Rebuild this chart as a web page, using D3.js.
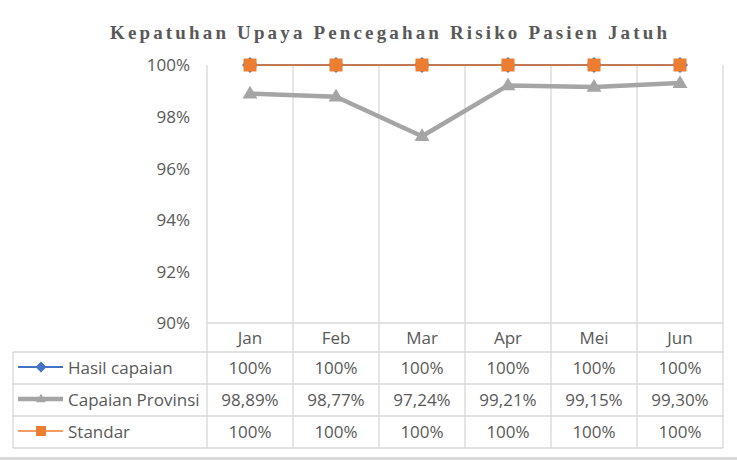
<!DOCTYPE html>
<html>
<head>
<meta charset="utf-8">
<script src="https://cdn.jsdelivr.net/npm/d3@7"></script>
<style>
html,body{margin:0;padding:0;background:#fff;}
svg{display:block;}
</style>
</head>
<body>
<svg id="chart" width="737" height="460"></svg>
<script>
const title = "Kepatuhan Upaya Pencegahan Risiko Pasien Jatuh";
const categories = ["Jan", "Feb", "Mar", "Apr", "Mei", "Jun"];
const hasilCapaian = [100, 100, 100, 100, 100, 100];
const capaianProvinsi = [98.89, 98.77, 97.24, 99.21, 99.15, 99.30];
const standar = [100, 100, 100, 100, 100, 100];
const yTicks = [90, 92, 94, 96, 98, 100];
const seriesNames = ["Hasil capaian", "Capaian Provinsi", "Standar"];

const series = [
  {name: seriesNames[0], values: hasilCapaian, color: "#4472c4", width: 2, marker: "diamond"},
  {name: seriesNames[1], values: capaianProvinsi, color: "#a5a5a5", width: 4.5, marker: "triangle"},
  {name: seriesNames[2], values: standar, color: "#ed7d31", width: 1.5, marker: "square"}
];

const svg = d3.select("#chart");
const txt = "#595959", grid = "#d9d9d9";
const font = "'Open Sans', sans-serif";

const plotL = 207, plotR = 723, plotT = 65, plotB = 323;
const tableL = 13;
const rowEdges = [323, 352, 384, 416, 448];

const x = d3.scaleBand().domain(categories).range([plotL, plotR]).padding(0);
const cx = c => x(c) + x.bandwidth() / 2;
const y = d3.scaleLinear().domain([90, 100]).range([plotB, plotT]);

const locale = d3.formatLocale({decimal: ",", thousands: ".", grouping: [3], currency: ["", ""]});
const fmt2 = locale.format(".2f");
const fmtVal = v => (v === 100 ? "100" : fmt2(v)) + "%";

// bottom band
svg.append("rect").attr("x", 0).attr("y", 457).attr("width", 737).attr("height", 3).attr("fill", "#d9d9d9");

// title
svg.append("text").attr("x", 110).attr("y", 39)
  .attr("font-family", "'Liberation Serif', 'Times New Roman', serif")
  .attr("font-weight", "bold").attr("font-size", 19).attr("fill", txt)
  .attr("textLength", 557).attr("lengthAdjust", "spacing")
  .text(title);

// vertical gridlines (band boundaries) spanning plot + table
const bounds = categories.map(c => x(c)).concat([plotR]);
svg.append("g").selectAll("line").data(bounds).join("line")
  .attr("x1", d => d).attr("x2", d => d)
  .attr("y1", plotT).attr("y2", rowEdges[rowEdges.length - 1])
  .attr("stroke", grid).attr("stroke-width", 1.3);

// horizontal table lines
svg.append("line").attr("x1", plotL).attr("x2", plotR).attr("y1", rowEdges[0]).attr("y2", rowEdges[0])
  .attr("stroke", grid).attr("stroke-width", 1.3);
svg.append("g").selectAll("line").data(rowEdges.slice(1)).join("line")
  .attr("x1", tableL).attr("x2", plotR).attr("y1", d => d).attr("y2", d => d)
  .attr("stroke", grid).attr("stroke-width", 1.3);
svg.append("line").attr("x1", tableL).attr("x2", tableL).attr("y1", rowEdges[1]).attr("y2", rowEdges[4])
  .attr("stroke", grid).attr("stroke-width", 1.3);

// y axis
const yAxis = d3.axisLeft(y).tickValues(yTicks).tickSize(0).tickPadding(0).tickFormat(d => d + "%");
const yg = svg.append("g").attr("transform", `translate(190,0)`).call(yAxis);
yg.select(".domain").remove();
yg.selectAll("text").attr("font-family", font).attr("font-size", 17).attr("fill", txt).attr("dy", "0.35em");

// category labels
svg.append("g").selectAll("text").data(categories).join("text")
  .attr("x", d => cx(d)).attr("y", (rowEdges[0] + rowEdges[1]) / 2 + 6)
  .attr("text-anchor", "middle").attr("font-family", font).attr("font-size", 17).attr("fill", txt)
  .text(d => d);

// marker drawing
function markerPath(type, s) {
  if (type === "diamond") return `M0,${-s/2}L${s/2},0L0,${s/2}L${-s/2},0Z`;
  if (type === "square") return `M${-s/2},${-s/2}h${s}v${s}h${-s}Z`;
  const h = s * 0.85;
  return `M0,${-h*0.62}L${s/2},${h*0.38}L${-s/2},${h*0.38}Z`;
}
const markerSize = {diamond: 16, triangle: 15, square: 13};

// lines
const line = d3.line().x((d, i) => cx(categories[i])).y(d => y(d));
series.forEach(s => {
  const g = svg.append("g");
  g.append("path").attr("d", line(s.values)).attr("fill", "none")
    .attr("stroke", s.color).attr("stroke-width", s.width).attr("stroke-linejoin", "round");
  g.selectAll("path.m").data(s.values).join("path").attr("class", "m")
    .attr("transform", (d, i) => `translate(${cx(categories[i])},${y(d)})`)
    .attr("d", markerPath(s.marker, markerSize[s.marker]))
    .attr("fill", s.color);
});

// table rows
series.forEach((s, r) => {
  const top = rowEdges[r + 1], bot = rowEdges[r + 2];
  const mid = (top + bot) / 2;
  svg.append("line").attr("x1", 18).attr("x2", 63).attr("y1", mid - 1).attr("y2", mid - 1)
    .attr("stroke", s.color).attr("stroke-width", s.width);
  svg.append("path").attr("transform", `translate(41,${mid - 1})`)
    .attr("d", markerPath(s.marker, s.marker === "diamond" ? 11 : 10)).attr("fill", s.color);
  svg.append("text").attr("x", 68).attr("y", mid + 6)
    .attr("font-family", font).attr("font-size", 17).attr("fill", txt).text(s.name);
  svg.append("g").selectAll("text").data(s.values).join("text")
    .attr("x", (d, i) => cx(categories[i])).attr("y", mid + 6)
    .attr("text-anchor", "middle").attr("font-family", font).attr("font-size", 17).attr("fill", txt)
    .text(d => fmtVal(d));
});
</script>
</body>
</html>
